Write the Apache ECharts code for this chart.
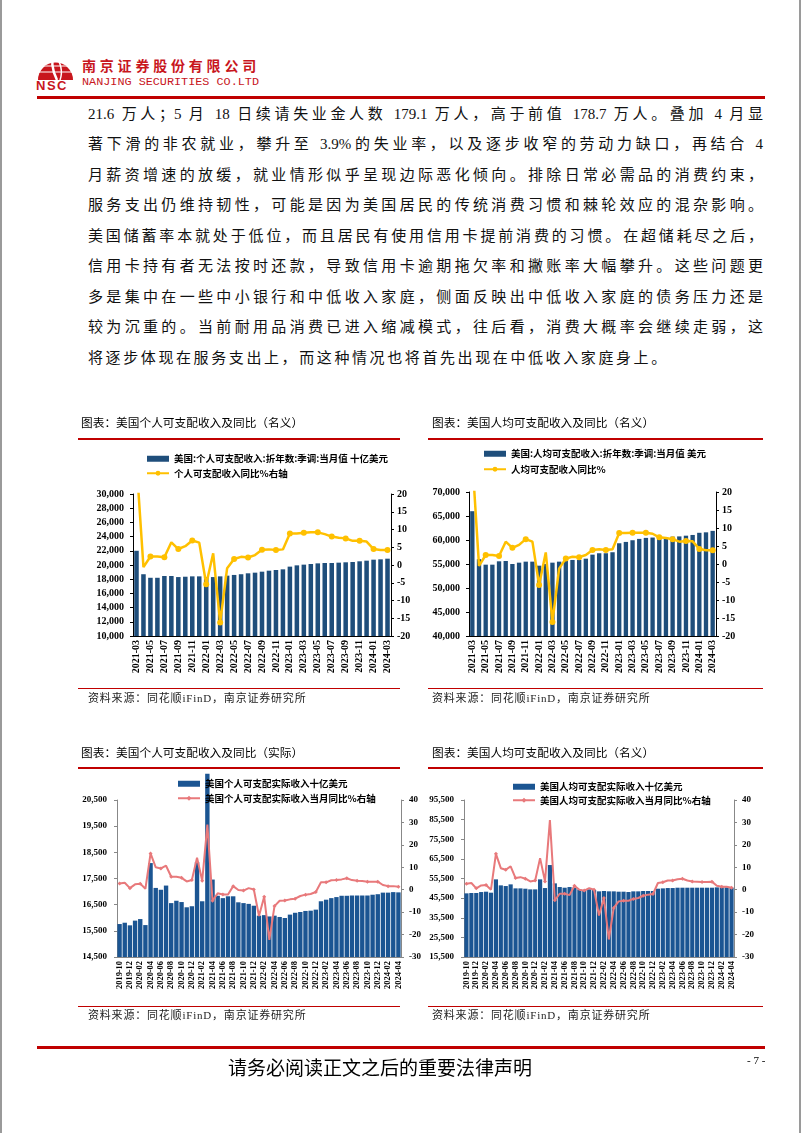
<!DOCTYPE html>
<html><head><meta charset="utf-8">
<script src="https://cdn.jsdelivr.net/npm/echarts@6/dist/echarts.min.js"></script>
<style>
html,body{margin:0;padding:0;}
body{width:802px;height:1133px;position:relative;background:#fff;overflow:hidden;font-family:"Liberation Serif","Noto Sans CJK SC",serif;}
#chart{position:absolute;left:0;top:0;width:802px;height:1133px;}
.abs{position:absolute;white-space:nowrap;}
.para{position:absolute;left:88px;width:675px;font-size:15px;line-height:20px;height:20px;text-align:justify;text-align-last:justify;color:#111;white-space:nowrap;}
.title{position:absolute;font-family:"Noto Sans CJK SC",sans-serif;font-size:11.7px;line-height:14px;color:#000;white-space:nowrap;}
.src{position:absolute;font-family:"Liberation Serif","Noto Sans CJK SC",serif;font-size:11px;line-height:14px;color:#222;letter-spacing:0.8px;white-space:nowrap;}
.rl{position:absolute;background:#C00000;}
</style></head>
<body>
<div style="position:absolute;left:0;top:0;width:2px;height:1133px;background:#9a9a9a"></div>
<div style="position:absolute;left:799px;top:0;width:2px;height:1133px;background:#9a9a9a"></div>
<svg style="position:absolute;left:37px;top:50px" width="37" height="32" viewBox="0 0 37 32">
  <path d="M1,30 A17.5,17.5 0 0 1 36,30 Z" fill="#C8161D"/>
  <path d="M2,10 L35,10 M1,16 L36,16 M1,22 L36,22" stroke="#fff" stroke-width="1.2"/>
  <path d="M17,2 C14,10 15,20 20,30" stroke="#fff" stroke-width="2.5" fill="none"/>
  <path d="M18,6 C24,12 26,22 23,30" stroke="#fff" stroke-width="1.5" fill="none"/>
</svg>
<div class="abs" style="left:36px;top:79px;font-family:'Liberation Sans',sans-serif;font-weight:bold;font-size:13px;line-height:13px;color:#C8161D;letter-spacing:1.5px;">NSC</div>
<div class="abs" style="left:82px;top:57px;font-family:'Noto Sans CJK SC',sans-serif;font-weight:bold;font-size:14px;line-height:16px;color:#C8161D;letter-spacing:3.8px;">南京证券股份有限公司</div>
<div class="abs" style="left:82px;top:75px;font-family:'Liberation Mono',monospace;font-size:11.8px;line-height:14px;color:#C8161D;">NANJING SECURITIES CO.LTD</div>
<div class="rl" style="left:37px;top:96px;width:728px;height:3px;"></div>

<div class="para" style="top:104px">21.6 万人；5 月 18 日续请失业金人数 179.1 万人，高于前值 178.7 万人。叠加 4 月显</div>
<div class="para" style="top:134px">著下滑的非农就业，攀升至 3.9%的失业率，以及逐步收窄的劳动力缺口，再结合 4</div>
<div class="para" style="top:165px">月薪资增速的放缓，就业情形似乎呈现边际恶化倾向。排除日常必需品的消费约束，</div>
<div class="para" style="top:195px">服务支出仍维持韧性，可能是因为美国居民的传统消费习惯和棘轮效应的混杂影响。</div>
<div class="para" style="top:226px">美国储蓄率本就处于低位，而且居民有使用信用卡提前消费的习惯。在超储耗尽之后，</div>
<div class="para" style="top:256px">信用卡持有者无法按时还款，导致信用卡逾期拖欠率和撇账率大幅攀升。这些问题更</div>
<div class="para" style="top:287px">多是集中在一些中小银行和中低收入家庭，侧面反映出中低收入家庭的债务压力还是</div>
<div class="para" style="top:317px">较为沉重的。当前耐用品消费已进入缩减模式，往后看，消费大概率会继续走弱，这</div>
<div class="para" style="top:348px;text-align:left;text-align-last:left;letter-spacing:2.6px;">将逐步体现在服务支出上，而这种情况也将首先出现在中低收入家庭身上。</div>

<div id="chart"></div>

<div class="title" style="left:81px;top:415px">图表：美国个人可支配收入及同比（名义）</div>
<div class="title" style="left:432px;top:415px">图表：美国人均可支配收入及同比（名义）</div>
<div class="rl" style="left:78px;top:438px;width:322px;height:1.5px;"></div>
<div class="rl" style="left:428px;top:438px;width:335px;height:1.5px;"></div>
<div class="rl" style="left:78px;top:688px;width:322px;height:1px;"></div>
<div class="rl" style="left:428px;top:688px;width:335px;height:1px;"></div>
<div class="src" style="left:88px;top:691px">资料来源：同花顺iFinD，南京证券研究所</div>
<div class="src" style="left:432px;top:691px">资料来源：同花顺iFinD，南京证券研究所</div>

<div class="title" style="left:81px;top:745px">图表：美国个人可支配收入及同比（实际）</div>
<div class="title" style="left:432px;top:745px">图表：美国人均可支配收入及同比（名义）</div>
<div class="rl" style="left:78px;top:767px;width:322px;height:1.5px;"></div>
<div class="rl" style="left:428px;top:767px;width:335px;height:1.5px;"></div>
<div class="rl" style="left:78px;top:1006px;width:322px;height:1px;"></div>
<div class="rl" style="left:428px;top:1006px;width:335px;height:1px;"></div>
<div class="src" style="left:88px;top:1008px">资料来源：同花顺iFinD，南京证券研究所</div>
<div class="src" style="left:432px;top:1008px">资料来源：同花顺iFinD，南京证券研究所</div>

<div class="rl" style="left:37px;top:1046px;width:728px;height:3px;"></div>
<div class="abs" style="left:228px;top:1055px;font-family:'Noto Sans CJK SC',sans-serif;font-size:19px;line-height:24px;color:#000;">请务必阅读正文之后的重要法律声明</div>
<div class="abs" style="left:747px;top:1053px;font-family:'Liberation Serif',serif;font-size:11px;line-height:14px;color:#000;">- 7 -</div>

<script>
// ---------- DATA ----------
const monthsA = ["2021-03","2021-04","2021-05","2021-06","2021-07","2021-08","2021-09","2021-10","2021-11","2021-12",
  "2022-01","2022-02","2022-03","2022-04","2022-05","2022-06","2022-07","2022-08","2022-09","2022-10","2022-11","2022-12",
  "2023-01","2023-02","2023-03","2023-04","2023-05","2023-06","2023-07","2023-08","2023-09","2023-10","2023-11","2023-12",
  "2024-01","2024-02","2024-03"];
const monthsB = ["2019-10","2019-11","2019-12",
  "2020-01","2020-02","2020-03","2020-04","2020-05","2020-06","2020-07","2020-08","2020-09","2020-10","2020-11","2020-12",
  "2021-01","2021-02","2021-03","2021-04","2021-05","2021-06","2021-07","2021-08","2021-09","2021-10","2021-11","2021-12",
  "2022-01","2022-02","2022-03","2022-04","2022-05","2022-06","2022-07","2022-08","2022-09","2022-10","2022-11","2022-12",
  "2023-01","2023-02","2023-03","2023-04","2023-05","2023-06","2023-07","2023-08","2023-09","2023-10","2023-11","2023-12",
  "2024-01","2024-02","2024-03","2024-04"];

// Chart 1: personal disposable income (nominal), bn USD, and YoY %
const pdiNominal = [22000,18700,18200,18200,18450,18450,18300,18350,18400,18400,
  18300,18300,18400,18500,18600,18700,18830,18920,19060,19200,19300,19390,
  19770,19950,20050,20140,20230,20280,20280,20330,20380,20420,20520,20610,
  20750,20800,20890];
const pdiNominalYoy = [29,-0.6,2.4,2.4,2.2,6.4,4.5,5.3,6.9,6.3,
  -5.4,3.3,-16.2,-0.9,1.7,2.3,2.1,2.8,4.3,4.4,4.2,4.4,
  8.9,8.9,9.1,9.2,9.2,8.7,8.0,7.7,7.5,6.8,6.8,6.6,
  4.5,4.2,4.2];

// Chart 2: per-capita disposable income (nominal), USD, and YoY %
const pcNominal = [66000,56000,54860,54860,55560,55630,55000,55280,55490,55490,
  54650,55000,55280,55490,55630,55840,55840,56110,56950,57240,57240,57450,
  59320,59600,59950,60230,60440,60510,60550,60600,60700,60750,60900,61050,
  61500,61600,61900];
const pcNominalYoy = [29,-0.5,2.5,2.5,2.2,6.2,4.5,5.3,6.9,6.2,
  -5.8,3.2,-16.1,-1.3,1.5,2.0,1.9,2.5,3.9,4.1,3.9,4.1,
  8.6,8.6,8.7,8.7,8.7,8.4,7.4,7.2,6.9,6.2,6.4,6.3,
  4.2,3.8,3.8];

// Chart 3: real personal disposable income, bn USD, and YoY %
const rpdi = [15760,15810,15710,
  15890,15950,15720,18090,17140,17070,17230,16560,16650,16600,16400,16440,
  18130,16630,21500,17460,16840,16750,16820,16820,16590,16560,16530,16460,
  16080,16100,16050,16080,16030,15990,16120,16190,16220,16260,16270,16310,
  16630,16690,16750,16790,16840,16840,16850,16850,16850,16850,16880,16900,
  16960,16960,16980,16970];
const rpdiYoy = [2.8,3.1,0.7,
  2.4,2.7,0.4,16.2,10.0,9.5,10.7,5.8,5.8,5.3,3.7,4.3,
  14.3,4.0,29,-4.9,-1.6,-2.1,-2.1,1.6,-0.1,-0.4,0.7,0.1,
  -11.7,-3.1,-22.4,-7.3,-4.9,-4.8,-4.3,-4.0,-2.8,-2.2,-1.9,-1.0,
  3.3,3.3,4.2,4.3,4.6,5.1,4.3,4.0,3.9,3.6,3.6,3.6,
  2.1,1.6,1.6,1.3];

// Chart 4: real per-capita disposable income and YoY %
const pcReal = [47930,48100,48100,
  48600,48780,48270,55060,52000,51660,52510,50470,50470,50300,49960,49960,
  55060,50640,62360,53020,51150,50810,51150,50810,49960,49630,49960,49630,
  48950,49120,48950,48950,48780,48780,48610,48950,48950,49120,49120,49120,
  50300,50470,50640,50640,50810,50810,50810,50810,50810,50810,50810,50810,
  50980,50980,50980,50810];
const pcRealYoy = [2.7,3.0,0.6,
  1.9,2.1,0.0,16.0,9.6,8.9,10.4,5.2,5.6,4.9,3.7,4.1,
  14.1,3.7,31,-4.7,-1.8,-1.8,-2.4,1.8,0.0,-0.4,0.7,0.0,
  -11.5,-3.7,-22.2,-8.1,-5.2,-4.9,-4.9,-4.1,-3.7,-2.7,-2.2,-1.9,
  3.0,3.3,4.1,4.1,4.7,4.9,4.1,3.7,3.6,3.4,3.4,3.6,
  1.8,1.3,1.3,0.9];

const names = {
  b1: "美国:个人可支配收入:折年数:季调:当月值 十亿美元",
  l1: "个人可支配收入同比%右轴",
  b2: "美国:人均可支配收入:折年数:季调:当月值 美元",
  l2: "人均可支配收入同比%",
  b3: "美国个人可支配实际收入十亿美元",
  l3: "美国个人可支配实际收入当月同比%右轴",
  b4: "美国人均可支配实际收入十亿美元",
  l4: "美国人均可支配实际收入当月同比%右轴"
};

// ---------- STYLE ----------
const NAVY = '#1F4E7B', BLUE2 = '#1B5592', GOLD = '#FFC000', PINK = '#E8797B';
const lblFont = {fontFamily:'Liberation Serif', fontWeight:'bold', color:'#000'};
const comma = v => v.toLocaleString('en-US');

function xAx(gi, data, fs, lineColor, show){
  return {type:'category', gridIndex:gi, data:data, show:show !== false,
    axisLine:{show:true, onZero:false, lineStyle:{color:lineColor, width:1}},
    axisTick:{show:false},
    axisLabel:Object.assign({interval:1, rotate:90, fontSize:fs, margin:4}, lblFont)};
}
function yAx(gi, pos, min, max, interval, fs, fmt, lineColor, margin, show){
  return {type:'value', gridIndex:gi, position:pos, min:min, max:max, interval:interval, show:show !== false,
    splitLine:{show:false},
    axisLine:{show:true, onZero:false, lineStyle:{color:lineColor, width:1}},
    axisTick:{show:true, length:3, lineStyle:{color:lineColor}},
    axisLabel:Object.assign({fontSize:fs, margin:margin, formatter:fmt}, lblFont)};
}
const legendText = {fontFamily:'Noto Sans CJK SC', fontWeight:'bold', fontSize:9.5, color:'#000'};
function leg(left, top, bn, ln, gap){
  return {orient:'vertical', left:left, top:top, itemWidth:22, itemHeight:6, itemGap:gap, padding:0,
    data:[{name:bn, icon:'rect'}, {name:ln}], textStyle:legendText, selectedMode:false};
}

// chart 3: the bar axis shares the visible axis scale (14500..20500 over 157px) but
// extends upward so the 2021-03 spike can rise above the frame as in the original.
const c3Bottom = 176, c3Top = 800, c3Max = 21500;
const c3PlotH = (1133 - c3Bottom) - c3Top;
const c3BarTop = (1133 - c3Bottom) - c3PlotH * (c3Max - 14500) / (20500 - 14500);

const option = {
  animation:false,
  grid:[
    {left:133, right:411, top:494, bottom:497},
    {left:469, right:86, top:492, bottom:497},
    {left:117, right:401, top:c3Top, bottom:c3Bottom},
    {left:464, right:68, top:800, bottom:176},
    {left:117, right:401, top:c3BarTop, bottom:c3Bottom}
  ],
  legend:[
    leg(146, 454, names.b1, names.l1, 5),
    leg(483, 449, names.b2, names.l2, 6),
    leg(177, 779, names.b3, names.l3, 5),
    leg(512, 782, names.b4, names.l4, 4)
  ],
  xAxis:[
    xAx(0, monthsA, 10, '#000'),
    xAx(1, monthsA, 10, '#000'),
    xAx(2, monthsB, 8.4, '#888'),
    xAx(3, monthsB, 8.4, '#888'),
    xAx(4, monthsB, 8.4, '#888', false)
  ],
  yAxis:[
    yAx(0,'left',10000,30000,2000,10,comma,'#000',9),
    yAx(0,'right',-20,20,5,10,'{value}','#000',6),
    yAx(1,'left',40000,70000,5000,10,comma,'#000',9),
    yAx(1,'right',-20,20,5,10,'{value}','#000',6),
    yAx(2,'left',14500,20500,1000,9,'{value}','#888',10),
    yAx(2,'right',-30,40,10,9,'{value}','#888',8),
    yAx(3,'left',15500,95500,10000,9,'{value}','#888',10),
    yAx(3,'right',-30,40,10,9,'{value}','#888',8),
    yAx(4,'left',14500,c3Max,1000,9,'{value}','#888',10,false)
  ],
  series:[
    {name:names.b1, type:'bar', xAxisIndex:0, yAxisIndex:0, data:pdiNominal, barCategoryGap:'35%', itemStyle:{color:NAVY}},
    {name:names.l1, type:'line', xAxisIndex:0, yAxisIndex:1, data:pdiNominalYoy, symbol:'circle', symbolSize:6,
      itemStyle:{color:GOLD}, lineStyle:{color:GOLD, width:2.5}, z:3},
    {name:names.b2, type:'bar', xAxisIndex:1, yAxisIndex:2, data:pcNominal, barCategoryGap:'35%', itemStyle:{color:NAVY}},
    {name:names.l2, type:'line', xAxisIndex:1, yAxisIndex:3, data:pcNominalYoy, symbol:'circle', symbolSize:6,
      itemStyle:{color:GOLD}, lineStyle:{color:GOLD, width:2.5}, z:3},
    {name:names.b3, type:'bar', xAxisIndex:4, yAxisIndex:8, data:rpdi, barCategoryGap:'15%', itemStyle:{color:BLUE2}},
    {name:names.l3, type:'line', xAxisIndex:2, yAxisIndex:5, data:rpdiYoy, symbol:'diamond', symbolSize:4, clip:false,
      itemStyle:{color:PINK}, lineStyle:{color:PINK, width:2}, z:3},
    {name:names.b4, type:'bar', xAxisIndex:3, yAxisIndex:6, data:pcReal, barCategoryGap:'15%', itemStyle:{color:BLUE2}},
    {name:names.l4, type:'line', xAxisIndex:3, yAxisIndex:7, data:pcRealYoy, symbol:'diamond', symbolSize:4, clip:false,
      itemStyle:{color:PINK}, lineStyle:{color:PINK, width:2}, z:3}
  ]
};
const chart = echarts.init(document.getElementById('chart'), null, {renderer:'canvas'});
chart.setOption(option);
</script>
</body></html>
